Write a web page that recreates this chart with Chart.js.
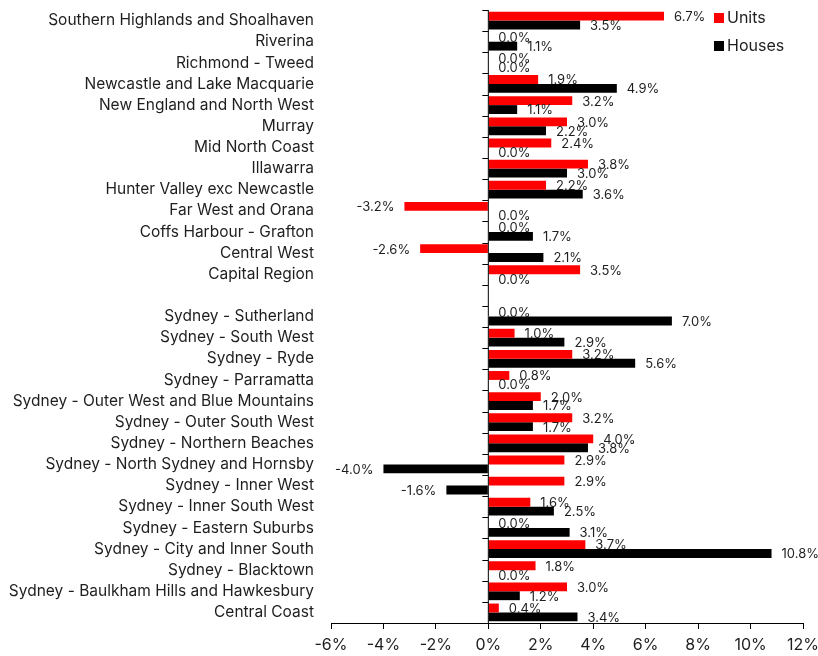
<!DOCTYPE html>
<html>
<head>
<meta charset="utf-8">
<script src="https://cdn.jsdelivr.net/npm/chart.js@4.4.0/dist/chart.umd.min.js"></script>
<style>
  html, body { margin: 0; padding: 0; background: #fff; }
  #wrap { width: 818px; height: 656px; }
</style>
</head>
<body>
<div id="wrap"><canvas id="chart"></canvas></div>
<script>
const regions = [
  'Southern Highlands and Shoalhaven', 'Riverina', 'Richmond - Tweed',
  'Newcastle and Lake Macquarie', 'New England and North West', 'Murray',
  'Mid North Coast', 'Illawarra', 'Hunter Valley exc Newcastle',
  'Far West and Orana', 'Coffs Harbour - Grafton', 'Central West',
  'Capital Region', '',
  'Sydney - Sutherland', 'Sydney - South West', 'Sydney - Ryde',
  'Sydney - Parramatta', 'Sydney - Outer West and Blue Mountains',
  'Sydney - Outer South West', 'Sydney - Northern Beaches',
  'Sydney - North Sydney and Hornsby', 'Sydney - Inner West',
  'Sydney - Inner South West', 'Sydney - Eastern Suburbs',
  'Sydney - City and Inner South', 'Sydney - Blacktown',
  'Sydney - Baulkham Hills and Hawkesbury', 'Central Coast'
];

const units = [
  6.7, 0.0, 0.0, 1.9, 3.2, 3.0, 2.4, 3.8, 2.2, -3.2, 0.0, -2.6, 3.5, null,
  0.0, 1.0, 3.2, 0.8, 2.0, 3.2, 4.0, 2.9, 2.9, 1.6, 0.0, 3.7, 1.8, 3.0, 0.4
];

const houses = [
  3.5, 1.1, 0.0, 4.9, 1.1, 2.2, 0.0, 3.0, 3.6, 0.0, 1.7, 2.1, 0.0, null,
  7.0, 2.9, 5.6, 0.0, 1.7, 1.7, 3.8, -4.0, -1.6, 2.5, 3.1, 10.8, 0.0, 1.2, 3.4
];

const xTicks = [-6, -4, -2, 0, 2, 4, 6, 8, 10, 12];

const FONT = 'Inter, "Noto Sans", sans-serif';
const TEXT = '#1e1e1e';

// zero line, category tick marks, value labels and legend
const extras = {
  id: 'extras',
  afterDatasetsDraw(chart) {
    const { ctx, chartArea } = chart;
    const x = chart.scales.x, y = chart.scales.y;
    const x0 = x.getPixelForValue(0);
    ctx.save();
    ctx.strokeStyle = '#000';
    ctx.lineWidth = 1;
    ctx.beginPath();
    ctx.moveTo(x0, chartArea.top);
    ctx.lineTo(x0, chartArea.bottom);
    const step = y.getPixelForTick(1) - y.getPixelForTick(0);
    for (let i = 0; i < regions.length; i++) {
      const yy = Math.round(y.getPixelForTick(i) - step / 2) + 0.5;
      ctx.moveTo(x0 - 6, yy);
      ctx.lineTo(x0, yy);
    }
    ctx.stroke();

    ctx.font = '13px ' + FONT;
    ctx.fillStyle = TEXT;
    ctx.textBaseline = 'middle';
    chart.data.datasets.forEach((ds, di) => {
      const meta = chart.getDatasetMeta(di);
      meta.data.forEach((el, i) => {
        const v = ds.data[i];
        if (v === null) return;
        const txt = v.toFixed(1) + '%';
        if (v < 0) {
          ctx.textAlign = 'right';
          ctx.fillText(txt, el.x - 10, el.y + 1);
        } else {
          ctx.textAlign = 'left';
          ctx.fillText(txt, el.x + 10, el.y + 1);
        }
      });
    });

    // legend
    ctx.font = '16px ' + FONT;
    ctx.textAlign = 'left';
    const lx = chartArea.right - 89;
    chart.data.datasets.forEach((ds, di) => {
      const ly = 18 + di * 28;
      ctx.fillStyle = ds.backgroundColor;
      ctx.fillRect(lx, ly - 5, 10, 10);
      ctx.fillStyle = TEXT;
      ctx.fillText(ds.label, lx + 13, ly);
    });
    ctx.restore();
  }
};

new Chart(document.getElementById('chart'), {
  type: 'bar',
  data: {
    labels: regions,
    datasets: [
      { label: 'Units', data: units, backgroundColor: '#ff0000' },
      { label: 'Houses', data: houses, backgroundColor: '#000000' }
    ]
  },
  options: {
    indexAxis: 'y',
    responsive: true,
    maintainAspectRatio: false,
    animation: false,
    barPercentage: 1,
    categoryPercentage: 0.84,
    layout: { padding: { top: 10, right: 15, left: 0, bottom: 0 } },
    plugins: {
      legend: { display: false },
      tooltip: { enabled: false }
    },
    scales: {
      x: {
        min: xTicks[0],
        max: xTicks[xTicks.length - 1],
        afterBuildTicks: (s) => { s.ticks = xTicks.map(v => ({ value: v })); },
        afterFit: (s) => { s.height = 33; s.paddingLeft = 0; s.paddingRight = 0; },
        grid: { drawOnChartArea: false, color: '#000', tickLength: 6 },
        border: { display: true, color: '#000' },
        ticks: {
          color: TEXT,
          font: { family: FONT, size: 16 },
          padding: 7,
          callback: (v) => v + '%'
        }
      },
      y: {
        afterFit: (s) => { s.width = 331; s.paddingTop = 0; s.paddingBottom = 0; },
        grid: { display: false, drawTicks: false },
        border: { display: false },
        ticks: {
          autoSkip: false,
          color: TEXT,
          padding: 17,
          font: { family: FONT, size: 15.5 }
        }
      }
    }
  },
  plugins: [extras]
});
</script>
</body>
</html>
